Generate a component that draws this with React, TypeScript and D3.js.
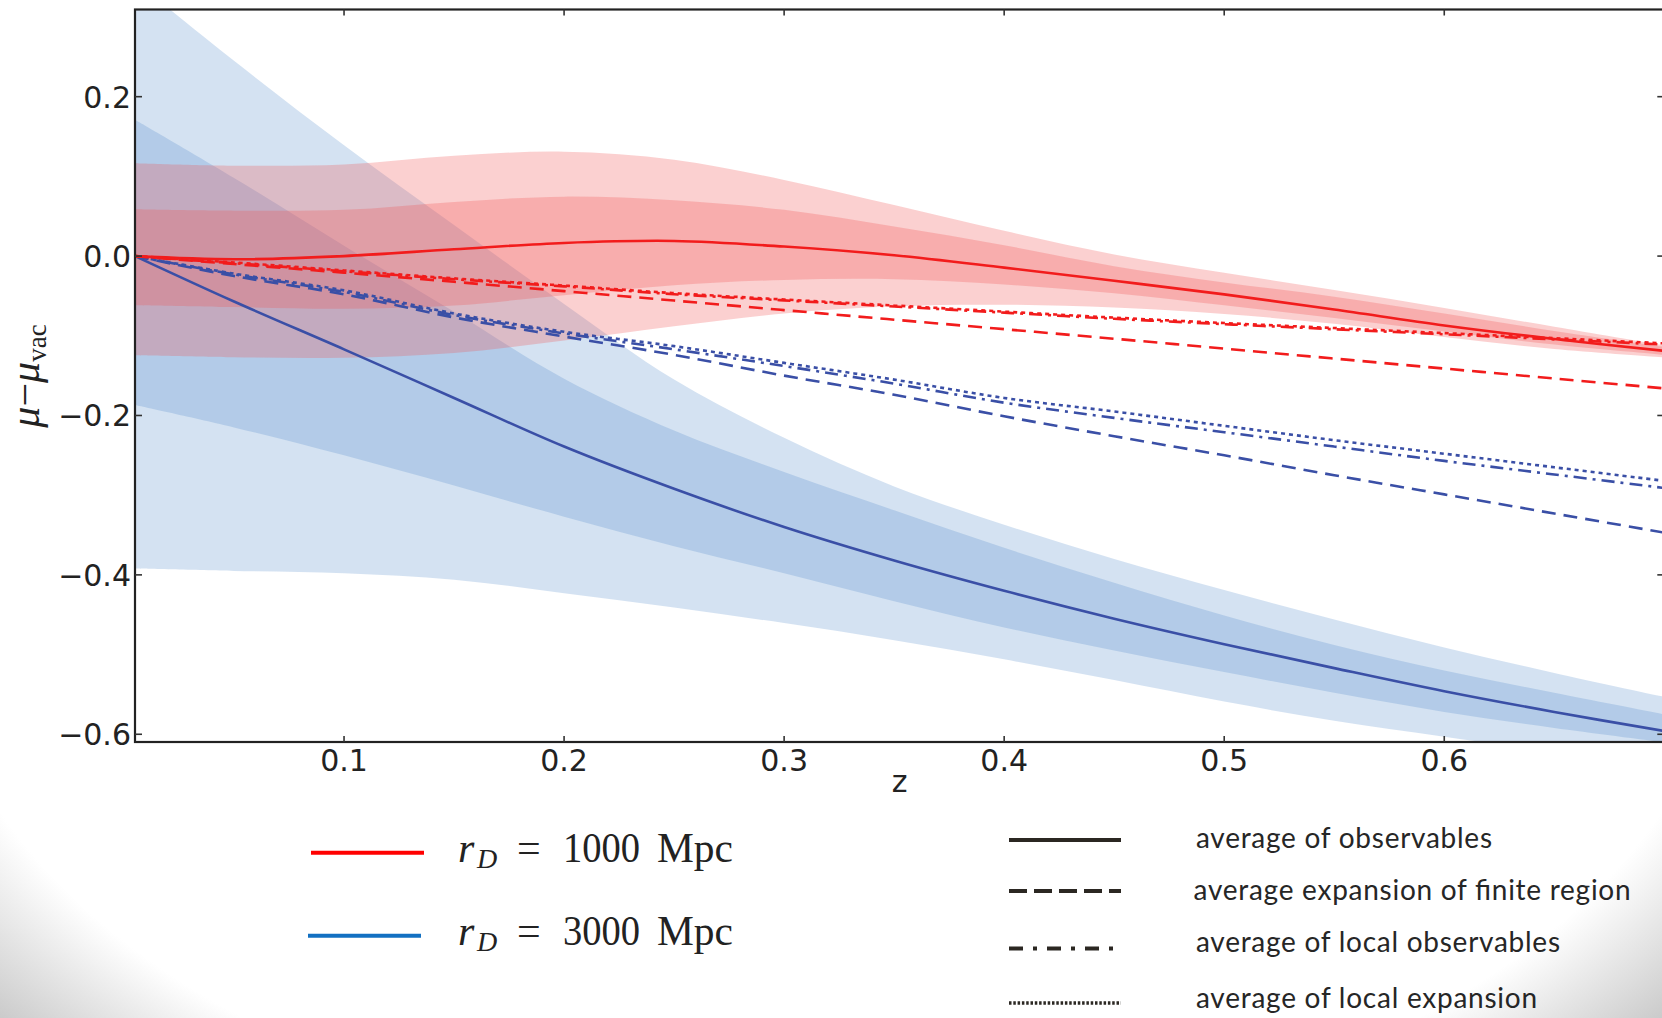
import * as d3 from 'd3'

// redshift grid the curves were read at
const zGrid = [0.005, 0.05, 0.1, 0.15, 0.2, 0.25, 0.3, 0.35, 0.4, 0.45, 0.5, 0.55, 0.6, 0.65, 0.7]

// r_D = 1000 Mpc (red)
const red1000Obs = [0, -0.004, 0.0, 0.0085, 0.0165, 0.019, 0.012, 0.001, -0.0145, -0.031, -0.048, -0.067, -0.087, -0.104, -0.119]
const red1000Sig1Hi = [0.0587, 0.057, 0.058, 0.068, 0.0746, 0.07, 0.058, 0.037, 0.0135, -0.0126, -0.033, -0.051, -0.072, -0.094, -0.114]
const red1000Sig1Lo = [-0.0616, -0.064, -0.066, -0.062, -0.049, -0.0365, -0.03, -0.029, -0.0357, -0.0467, -0.0618, -0.0776, -0.0946, -0.111, -0.124]
const red1000Sig2Hi = [0.1166, 0.1135, 0.115, 0.126, 0.131, 0.121, 0.0956, 0.064, 0.0317, 0.002, -0.021, -0.0426, -0.065, -0.0887, -0.112]
const red1000Sig2Lo = [-0.1245, -0.127, -0.1275, -0.1215, -0.106, -0.088, -0.072, -0.063, -0.061, -0.0646, -0.0726, -0.085, -0.1016, -0.1165, -0.127]
const red1000Finite = [0, -0.01, -0.0208, -0.0323, -0.044, -0.0558, -0.0678, -0.0798, -0.0917, -0.1037, -0.1161, -0.1286, -0.1411, -0.1536, -0.166]
const red1000Local = [0, -0.009, -0.019, -0.029, -0.038, -0.0478, -0.0556, -0.0633, -0.071, -0.0787, -0.0854, -0.0918, -0.0981, -0.1045, -0.111]
const red1000LocalExp = [0, -0.008, -0.018, -0.028, -0.037, -0.0465, -0.0545, -0.062, -0.0697, -0.0772, -0.084, -0.0903, -0.0966, -0.103, -0.1095]

// r_D = 3000 Mpc (blue)
const blue3000Obs = [0, -0.057, -0.117, -0.178, -0.239, -0.292, -0.34, -0.382, -0.42, -0.455, -0.487, -0.517, -0.546, -0.572, -0.596]
const blue3000Sig1Hi = [0.171, 0.098, 0.013, -0.07, -0.154, -0.219, -0.271, -0.319, -0.366, -0.41, -0.451, -0.488, -0.52, -0.548, -0.575]
const blue3000Sig1Lo = [-0.187, -0.215, -0.25, -0.288, -0.327, -0.364, -0.398, -0.433, -0.466, -0.495, -0.522, -0.548, -0.572, -0.592, -0.61]
const blue3000Sig2Hi = [0.345, 0.245, 0.139, 0.039, -0.06, -0.155, -0.228, -0.289, -0.337, -0.38, -0.419, -0.456, -0.491, -0.523, -0.553]
const blue3000Sig2Lo = [-0.392, -0.395, -0.398, -0.406, -0.423, -0.441, -0.4605, -0.482, -0.506, -0.532, -0.559, -0.583, -0.603, -0.622, -0.64]
const blue3000Finite = [0, -0.025, -0.048, -0.077, -0.101, -0.124, -0.15, -0.174, -0.201, -0.226, -0.25, -0.275, -0.299, -0.323, -0.347]
const blue3000Local = [0, -0.023, -0.045, -0.074, -0.097, -0.117, -0.138, -0.16, -0.184, -0.203, -0.221, -0.239, -0.257, -0.274, -0.291]
const blue3000LocalExp = [0, -0.022, -0.043, -0.072, -0.095, -0.113, -0.134, -0.155, -0.178, -0.195, -0.213, -0.231, -0.248, -0.265, -0.282]

const xTicks = [0.1, 0.2, 0.3, 0.4, 0.5, 0.6]
const xTickLabels = ['0.1', '0.2', '0.3', '0.4', '0.5', '0.6']
const yTicks = [0.2, 0.0, -0.2, -0.4, -0.6]
const yTickLabels = ['0.2', '0.0', '\u22120.2', '\u22120.4', '\u22120.6']

const radiusLabels = ['1000', '3000']
const styleLabels = [
  'average of observables',
  'average expansion of finite region',
  'average of local observables',
  'average of local expansion',
]

const RED = '#f21c1c'
const BLUE = '#3a4fa6'
const RED_FILL = 'rgba(240,80,80,0.27)'
const BLUE_FILL = 'rgba(70,130,200,0.23)'

// plot box in page pixels
const X0 = 135
const X1 = 1664.3
const Y0 = 9.5
const Y1 = 742

const DASH_PLOT = ['', '14,8', '13,6,3,6', '4,4']
const DASH_LEGEND = ['', '18,7', '14,10,4,10', '2.5,1.8']

export default function App() {
  const x = d3.scaleLinear().domain([0.005, 0.7]).range([X0, X1])
  const y = d3.scaleLinear().domain([-0.6097, 0.3094]).range([Y1, Y0])

  const line = d3.line<number>()
    .x((_, i) => x(zGrid[i]))
    .y(d => y(d))
    .curve(d3.curveCatmullRom.alpha(0.5))

  const band = (lo: number[], hi: number[]) =>
    d3.area<number>()
      .x((_, i) => x(zGrid[i]))
      .y0((_, i) => y(lo[i]))
      .y1(d => y(d))
      .curve(d3.curveCatmullRom.alpha(0.5))(hi) || ''

  const blueLines = [blue3000Obs, blue3000Finite, blue3000Local, blue3000LocalExp]
  const redLines = [red1000Obs, red1000Finite, red1000Local, red1000LocalExp]

  const legendY = [840, 891, 948.5, 1003]
  const legendTextY = [848, 900, 952, 1008]
  const legendTextX = [1196, 1193.6, 1196, 1196]
  const legendTextW = [296, 437, 364, 341]

  return (
    <svg width={1662} height={1018} style={{ position: 'absolute', left: 0, top: 0, display: 'block' }}>
      <defs>
        <radialGradient id="vignette" cx="0.5" cy="0.59" r="0.66">
          <stop offset="0.82" stopColor="#ffffff" />
          <stop offset="1" stopColor="#c4c4c4" />
        </radialGradient>
        <clipPath id="plotClip">
          <rect x={X0} y={Y0} width={X1 - X0} height={Y1 - Y0} />
        </clipPath>
      </defs>
      <rect x={0} y={0} width={1662} height={1018} fill="url(#vignette)" />
      <rect x={0} y={0} width={1662} height={790} fill="#ffffff" />

      <g clipPath="url(#plotClip)">
        <path d={band(blue3000Sig2Lo, blue3000Sig2Hi)} fill={BLUE_FILL} />
        <path d={band(blue3000Sig1Lo, blue3000Sig1Hi)} fill={BLUE_FILL} />
        <path d={band(red1000Sig2Lo, red1000Sig2Hi)} fill={RED_FILL} />
        <path d={band(red1000Sig1Lo, red1000Sig1Hi)} fill={RED_FILL} />
        {blueLines.map((vals, i) => (
          <path key={'b' + i} d={line(vals) || ''} fill="none" stroke={BLUE}
            strokeWidth={2.6} strokeDasharray={DASH_PLOT[i] || undefined} />
        ))}
        {redLines.map((vals, i) => (
          <path key={'r' + i} d={line(vals) || ''} fill="none" stroke={RED}
            strokeWidth={2.6} strokeDasharray={DASH_PLOT[i] || undefined} />
        ))}
      </g>

      {/* axes frame and inward ticks */}
      <rect x={X0} y={Y0} width={X1 - X0} height={Y1 - Y0} fill="none" stroke="#222" strokeWidth={2.2} />
      {xTicks.map(t => (
        <g key={'xt' + t} stroke="#333" strokeWidth={1.6}>
          <line x1={x(t)} x2={x(t)} y1={Y1} y2={Y1 - 6} />
          <line x1={x(t)} x2={x(t)} y1={Y0} y2={Y0 + 6} />
        </g>
      ))}
      {yTicks.map(t => (
        <g key={'yt' + t} stroke="#333" strokeWidth={1.6}>
          <line x1={X0} x2={X0 + 7} y1={y(t)} y2={y(t)} />
          <line x1={X1} x2={X1 - 7} y1={y(t)} y2={y(t)} />
        </g>
      ))}
      <g fontFamily="'DejaVu Sans', sans-serif" fontSize={30} fill="#222">
        {xTicks.map((t, i) => (
          <text key={'xl' + t} x={x(t)} y={771} textAnchor="middle">{xTickLabels[i]}</text>
        ))}
        {yTicks.map((t, i) => (
          <text key={'yl' + t} x={131} y={y(t) + 11} textAnchor="end">{yTickLabels[i]}</text>
        ))}
        <text x={(X0 + X1) / 2} y={792} textAnchor="middle">z</text>
      </g>

      {/* y axis label */}
      <text transform="translate(39,376) rotate(-90)" textAnchor="middle"
        fontFamily="'Liberation Serif', serif" fontSize={42} fill="#222">
        <tspan fontStyle="italic">μ</tspan>
        <tspan>−</tspan>
        <tspan fontStyle="italic">μ</tspan>
        <tspan fontSize={27} dy={7}>vac</tspan>
      </text>

      {/* colour legend */}
      {radiusLabels.map((lab, i) => {
        const ly = i === 0 ? 852.7 : 935.7
        const by = i === 0 ? 861.7 : 945
        const lx = i === 0 ? 311 : 308
        return (
          <g key={'rl' + i}>
            <line x1={lx} x2={lx + 113} y1={ly} y2={ly} stroke={i === 0 ? '#ff0000' : '#1270c2'} strokeWidth={4} />
            <g fontFamily="'Liberation Serif', serif" fill="#222">
              <text x={458} y={by} fontSize={42} fontStyle="italic">r</text>
              <text x={477} y={by + 6} fontSize={28} fontStyle="italic">D</text>
              <text x={517} y={by} fontSize={42}>=</text>
              <text x={563} y={by} fontSize={42} textLength={77} lengthAdjust="spacingAndGlyphs">{lab}</text>
              <text x={657} y={by} fontSize={42} textLength={76} lengthAdjust="spacingAndGlyphs">Mpc</text>
            </g>
          </g>
        )
      })}

      {/* line style legend */}
      {styleLabels.map((lab, i) => (
        <g key={'sl' + i}>
          <line x1={1009} x2={1121} y1={legendY[i]} y2={legendY[i]} stroke="#2b2722"
            strokeWidth={i === 3 ? 3.5 : 4} strokeDasharray={DASH_LEGEND[i] || undefined} />
          <text x={legendTextX[i]} y={legendTextY[i]} fontFamily="Lato, 'Open Sans', sans-serif"
            fontSize={28} fill="#262626" textLength={legendTextW[i]} lengthAdjust="spacing">{lab}</text>
        </g>
      ))}
    </svg>
  )
}
